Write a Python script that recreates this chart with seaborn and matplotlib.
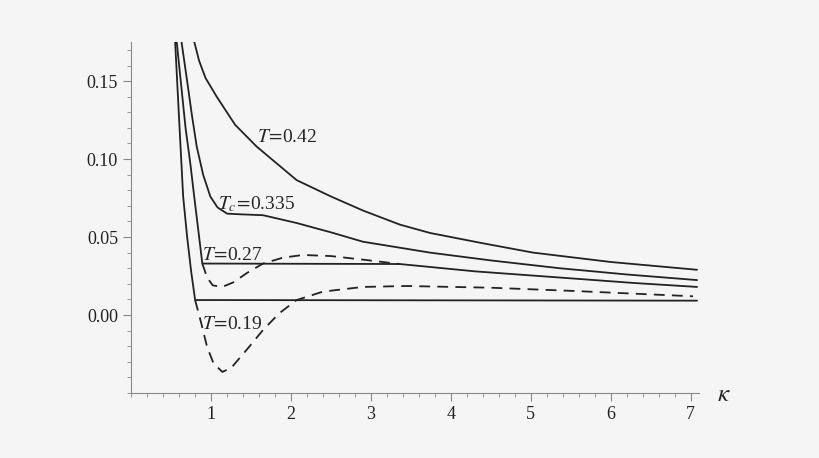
import numpy as np
import pandas as pd
import seaborn as sns
import matplotlib.pyplot as plt
from matplotlib.ticker import MultipleLocator

# curves (kappa, value)
k_042 = [0.79, 0.85, 0.93, 1.07, 1.3, 1.57, 2.07, 2.5, 2.9, 3.36, 3.74, 4.4, 5.03, 6.0, 7.08]
v_042 = [0.175, 0.163, 0.152, 0.140, 0.122, 0.108, 0.0865, 0.076, 0.067, 0.058, 0.0526, 0.046, 0.040, 0.034, 0.029]

k_tc = [0.63, 0.7, 0.76, 0.82, 0.9, 0.99, 1.08, 1.2, 1.4, 1.65, 2.07, 2.5, 2.9, 3.74, 4.5, 5.36, 6.2, 7.08]
v_tc = [0.175, 0.150, 0.128, 0.108, 0.090, 0.076, 0.069, 0.065, 0.0645, 0.064, 0.059, 0.053, 0.047, 0.040, 0.035, 0.030, 0.026, 0.0224]

k_027 = [0.57, 0.63, 0.68, 0.74, 0.8, 0.85, 0.89, 3.36, 4.3, 5.45, 6.3, 7.08]
v_027 = [0.175, 0.145, 0.120, 0.097, 0.071, 0.050, 0.033, 0.0327, 0.028, 0.0237, 0.0205, 0.018]
k_027d = [0.89, 0.95, 1.02, 1.14, 1.28, 1.45, 1.65, 1.9, 2.15, 2.5, 2.9, 3.36]
v_027d = [0.033, 0.024, 0.019, 0.018, 0.021, 0.027, 0.033, 0.0368, 0.0385, 0.0378, 0.0355, 0.0327]

k_019 = [0.55, 0.6, 0.65, 0.7, 0.75, 0.8, 7.08]
v_019 = [0.175, 0.125, 0.076, 0.050, 0.028, 0.0096, 0.0092]
k_019d = [0.8, 0.88, 0.95, 1.03, 1.14, 1.25, 1.45, 1.65, 1.85, 2.07, 2.4, 2.9, 3.45, 4.5, 5.5, 7.03]
v_019d = [0.0096, -0.006, -0.0205, -0.031, -0.0365, -0.034, -0.022, -0.0096, 0.001, 0.0096, 0.015, 0.018, 0.0186, 0.0175, 0.0155, 0.012]

solid = [(k_042, v_042), (k_tc, v_tc), (k_027, v_027), (k_019, v_019)]
dashed = [(k_027d, v_027d), (k_019d, v_019d)]

sns.set_style("ticks")
plt.rcParams['font.family'] = ['Liberation Serif', 'DejaVu Serif']
plt.rcParams['mathtext.fontset'] = 'stix'

fig = plt.figure(figsize=(8.2, 4.58), dpi=100, facecolor='#f5f5f5')
ax = fig.add_axes([0.16, 0.142, 0.692, 0.766])
ax.set_facecolor('#f5f5f5')

for k, v in solid:
    sns.lineplot(x=k, y=v, sort=False, estimator=None, color='#222222', lw=1.3, ax=ax)
for k, v in dashed:
    sns.lineplot(x=k, y=v, sort=False, estimator=None, color='#222222', lw=1.3,
                 ax=ax, linestyle=(0, (6, 4)))

ax.set_xlim(0, 7.1)
ax.set_ylim(-0.05, 0.175)
ax.spines['top'].set_visible(False)
ax.spines['right'].set_visible(False)
for s in ['left', 'bottom']:
    ax.spines[s].set_color('#888888')
ax.xaxis.set_major_locator(MultipleLocator(1))
ax.xaxis.set_minor_locator(MultipleLocator(0.2))
ax.yaxis.set_major_locator(MultipleLocator(0.05))
ax.yaxis.set_minor_locator(MultipleLocator(0.01))
ax.set_xticks([1, 2, 3, 4, 5, 6, 7])
ax.set_yticks([0.0, 0.05, 0.10, 0.15])
ax.set_yticklabels(['0.00', '0.05', '0.10', '0.15'])
ax.tick_params(which='major', length=6, color='#888888', labelsize=13, labelcolor='#222222')
ax.tick_params(which='minor', length=3, color='#888888')

fs = 14
ax.text(1.57, 0.111, r'$T\!=\!$0.42', fontsize=fs)
ax.text(1.09, 0.068, r'$T_c\!=\!$0.335', fontsize=fs)
ax.text(0.88, 0.035, r'$T\!=\!$0.27', fontsize=fs)
ax.text(0.88, -0.009, r'$T\!=\!$0.19', fontsize=fs)
ax.text(7.33, -0.055, r'$\kappa$', fontsize=18)

fig.savefig('out.png', dpi=100, facecolor=fig.get_facecolor())
